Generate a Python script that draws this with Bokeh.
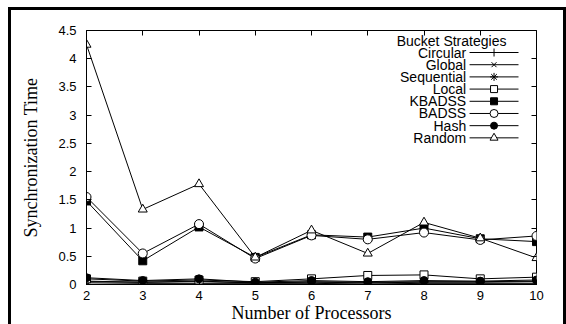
from bokeh.plotting import figure
from bokeh.models import LinearAxis, FixedTicker, Range1d, ColumnDataSource
from bokeh.core.properties import value
from bokeh.embed import file_html
from bokeh.resources import INLINE

processors = [2, 3, 4, 5, 6, 7, 8, 9, 10]
series_names = ["Circular", "Global", "Sequential", "Local", "KBADSS", "BADSS", "Hash", "Random"]
circular = [0.06, 0.04, 0.05, 0.03, 0.05, 0.04, 0.05, 0.05, 0.06]
global_ = [0.03, 0.02, 0.02, 0.02, 0.02, 0.01, 0.02, 0.02, 0.02]
sequential = [0.05, 0.04, 0.06, 0.03, 0.04, 0.03, 0.04, 0.04, 0.05]
local = [0.10, 0.06, 0.08, 0.05, 0.10, 0.16, 0.17, 0.10, 0.13]
kbadss = [1.48, 0.42, 1.02, 0.48, 0.88, 0.84, 1.00, 0.81, 0.76]
badss = [1.55, 0.55, 1.07, 0.46, 0.87, 0.80, 0.92, 0.79, 0.86]
hash_ = [0.12, 0.07, 0.10, 0.04, 0.07, 0.05, 0.07, 0.06, 0.08]
random_ = [4.25, 1.33, 1.78, 0.48, 0.96, 0.55, 1.10, 0.82, 0.47]
y_ticks = [0, 0.5, 1, 1.5, 2, 2.5, 3, 3.5, 4, 4.5]
y_tick_labels = ["0", "0.5", "1", "1.5", "2", "2.5", "3", "3.5", "4", "4.5"]
legend_title = "Bucket Strategies"

series_values = [circular, global_, sequential, local, kbadss, badss, hash_, random_]
styles = [
    ("cross", "white"),
    ("x", "white"),
    ("asterisk", "white"),
    ("square", "white"),
    ("square", "black"),
    ("circle", "white"),
    ("circle", "black"),
    ("triangle", "white"),
]
sizes = [9, 8, 9, 8, 8, 9, 8, 9]

SANS = "Liberation Sans"
SERIF = "Liberation Serif"

p = figure(
    output_backend="svg", toolbar_location=None,
    frame_width=450, frame_height=254,
    min_border_left=75, min_border_right=27, min_border_top=20, min_border_bottom=40,
    x_range=Range1d(2, 10), y_range=Range1d(0, 4.5),
    background_fill_color="white", border_fill_color="white",
)
p.styles = {"margin-left": "8px", "margin-top": "7px",
            "border-left": "3px solid black", "border-top": "3px solid black",
            "border-right": "3px solid black"}
p.grid.visible = False
p.outline_line_color = "black"
p.outline_line_width = 1

for ax in (p.xaxis[0], p.yaxis[0]):
    ax.major_tick_in = 5
    ax.major_tick_out = 0
    ax.minor_tick_line_color = None
    ax.axis_line_color = "black"
    ax.major_label_text_font = SANS
    ax.major_label_text_font_size = "13px"
    ax.major_label_text_color = "black"
    ax.axis_label_text_font = SERIF
    ax.axis_label_text_font_size = "18px"
    ax.axis_label_text_font_style = "normal"
    ax.axis_label_text_color = "black"

p.xaxis[0].ticker = FixedTicker(ticks=processors)
p.xaxis[0].major_label_standoff = 6
p.xaxis[0].axis_label = "Number of Processors"
p.xaxis[0].axis_label_standoff = 0
p.yaxis[0].ticker = FixedTicker(ticks=y_ticks)
p.yaxis[0].major_label_overrides = {t: l for t, l in zip(y_ticks, y_tick_labels)}
p.yaxis[0].major_label_standoff = 10
p.yaxis[0].axis_label = "Synchronization Time"
p.yaxis[0].axis_label_standoff = 14

top = LinearAxis(ticker=FixedTicker(ticks=processors),
                 major_label_overrides={t: "" for t in processors},
                 major_tick_in=5, major_tick_out=0, minor_tick_line_color=None,
                 axis_line_color=None, major_label_standoff=0)
right = LinearAxis(ticker=FixedTicker(ticks=y_ticks),
                   major_label_overrides={t: "" for t in y_ticks},
                   major_tick_in=5, major_tick_out=0, minor_tick_line_color=None,
                   axis_line_color=None, major_label_standoff=0)
p.add_layout(top, "above")
p.add_layout(right, "right")

for name, vals, (marker, fill), sz in zip(series_names, series_values, styles, sizes):
    src = ColumnDataSource(dict(x=processors, y=vals))
    p.line("x", "y", source=src, line_color="black", line_width=1)
    p.scatter("x", "y", source=src, marker=marker, size=sz, line_color="black",
              fill_color=fill, line_width=1)

# legend (gnuplot style: right-aligned label, then line sample with marker)
lx_text = 8.75
lx0, lx1 = 8.81, 9.68
lxm = (lx0 + lx1) / 2
ly0 = 4.11
dy = 0.216
p.text(x=[8.49], y=[ly0 + dy * 0.98], text=[legend_title], text_align="center",
       text_baseline="middle", text_font=value(SANS), text_font_size="14px",
       text_color="black")
n = len(series_names)
ly = [ly0 - i * dy for i in range(n)]
p.text(x=[lx_text] * n, y=ly, text=series_names, text_align="right",
       text_baseline="middle", text_font=value(SANS), text_font_size="14px",
       text_color="black")
p.segment(x0=[lx0] * n, y0=ly, x1=[lx1] * n, y1=ly, line_color="black", line_width=1)
for i, ((marker, fill), sz) in enumerate(zip(styles, sizes)):
    p.scatter(x=[lxm], y=[ly[i]], marker=marker, size=sz - 1, line_color="black",
              fill_color=fill, line_width=1)

open("out.html", "w").write(file_html(p, INLINE))
